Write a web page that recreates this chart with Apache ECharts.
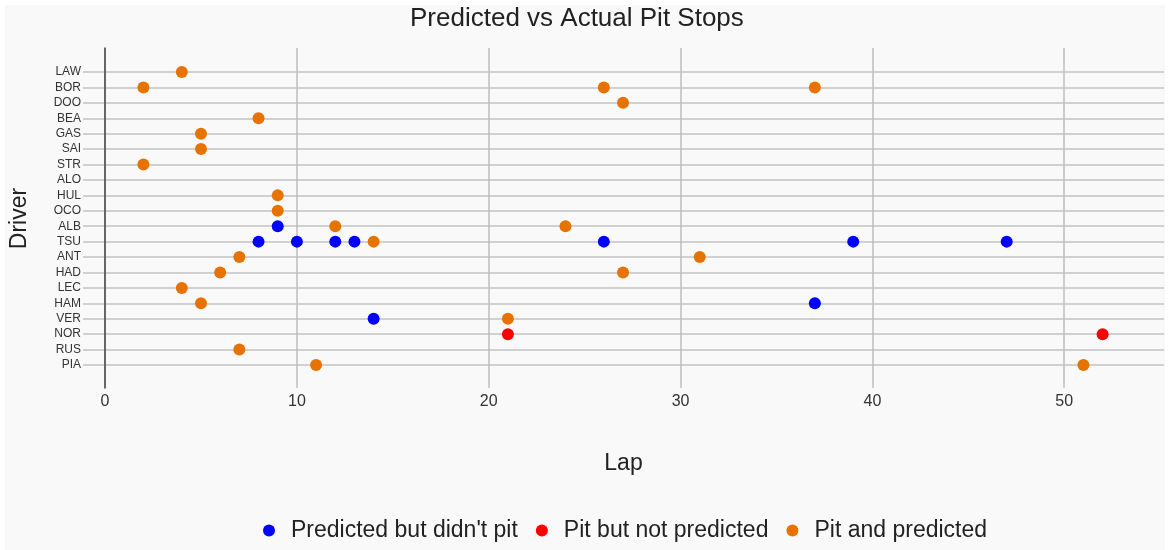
<!DOCTYPE html>
<html>
<head>
<meta charset="utf-8">
<script src="https://cdn.jsdelivr.net/npm/echarts@6/dist/echarts.min.js"></script>
<style>
html,body{margin:0;padding:0;background:#ffffff;}
#chart{width:1170px;height:550px;}
</style>
</head>
<body>
<div id="chart"></div>
<script>
// Drivers, top to bottom
const drivers = ['LAW','BOR','DOO','BEA','GAS','SAI','STR','ALO','HUL','OCO','ALB','TSU','ANT','HAD','LEC','HAM','VER','NOR','RUS','PIA'];

// [driver, lap]
const predictedNotPit = [
  ['ALB', 9],
  ['TSU', 8], ['TSU', 10], ['TSU', 12], ['TSU', 13], ['TSU', 26], ['TSU', 39], ['TSU', 47],
  ['HAM', 37],
  ['VER', 14]
];
const pitNotPredicted = [
  ['NOR', 21], ['NOR', 52]
];
const pitAndPredicted = [
  ['LAW', 4],
  ['BOR', 2], ['BOR', 26], ['BOR', 37],
  ['DOO', 27],
  ['BEA', 8],
  ['GAS', 5],
  ['SAI', 5],
  ['STR', 2],
  ['HUL', 9],
  ['OCO', 9],
  ['ALB', 12], ['ALB', 24],
  ['TSU', 14],
  ['ANT', 7], ['ANT', 31],
  ['HAD', 6], ['HAD', 27],
  ['LEC', 4],
  ['HAM', 5],
  ['VER', 21],
  ['RUS', 7],
  ['PIA', 11], ['PIA', 51]
];

const seriesNames = ["Predicted but didn't pit", 'Pit but not predicted', 'Pit and predicted'];
const seriesColors = ['#0000ff', '#ff0000', '#e67300'];

const xMin = -1.15, xMax = 55.2;
const FONT = '"Liberation Sans", Arial, sans-serif';

const toPoints = arr => arr.map(d => [d[1], d[0]]);

const chart = echarts.init(document.getElementById('chart'));
chart.setOption({
  backgroundColor: '#ffffff',
  animation: false,
  textStyle: { fontFamily: FONT },
  graphic: [{
    type: 'rect', z: -100, silent: true,
    shape: { x: 5, y: 5, width: 1160, height: 545 },
    style: { fill: '#f9f9f9' }
  }],
  title: {
    text: 'Predicted vs Actual Pit Stops',
    left: 405, top: 1,
    textStyle: { fontFamily: FONT, fontSize: 26, fontWeight: 'normal', color: '#222' }
  },
  legend: {
    bottom: 3, left: 258,
    icon: 'circle', itemWidth: 12, itemHeight: 12, itemGap: 18,
    textStyle: { fontFamily: FONT, fontSize: 23, color: '#222', padding: [0, 0, 0, 11] },
    data: seriesNames
  },
  grid: [
    { left: 83, right: 6, top: 48, bottom: 162, containLabel: false },
    { left: 83, right: 6, top: 72, bottom: 185, containLabel: false }
  ],
  xAxis: [
    {
      type: 'value', gridIndex: 0, min: xMin, max: xMax,
      minInterval: 10, maxInterval: 10,
      name: 'Lap', nameLocation: 'middle', nameGap: 64,
      nameTextStyle: { fontFamily: FONT, fontSize: 23, color: '#222' },
      axisLine: { show: false }, axisTick: { show: false },
      axisLabel: { showMinLabel: false, showMaxLabel: false, fontFamily: FONT, fontSize: 16, color: '#333', margin: 6 },
      splitLine: { show: true, showMinLine: false, showMaxLine: false, lineStyle: { color: '#bcbcbc', width: 1.5 } }
    },
    {
      type: 'value', gridIndex: 1, min: xMin, max: xMax, show: false,
      splitLine: { show: false }
    }
  ],
  yAxis: [
    {
      type: 'value', gridIndex: 0, min: 0, max: 1,
      axisLine: { show: true, onZero: true, lineStyle: { color: '#444', width: 1.5 } },
      axisTick: { show: false }, axisLabel: { show: false }, splitLine: { show: false }
    },
    {
      type: 'category', gridIndex: 1, data: drivers, inverse: true, boundaryGap: false,
      name: 'Driver', nameLocation: 'middle', nameGap: 52,
      nameTextStyle: { fontFamily: FONT, fontSize: 23, color: '#222' },
      axisLine: { show: false, onZero: false }, axisTick: { show: false },
      axisLabel: { fontFamily: FONT, fontSize: 12, color: '#333', margin: 2, interval: 0 },
      splitLine: { show: true, interval: 0, lineStyle: { color: '#c2c2c2', width: 1.5 } }
    }
  ],
  series: [predictedNotPit, pitNotPredicted, pitAndPredicted].map((arr, i) => ({
    name: seriesNames[i],
    type: 'scatter',
    xAxisIndex: 1, yAxisIndex: 1,
    symbol: 'circle', symbolSize: 12,
    itemStyle: { color: seriesColors[i], opacity: 1 },
    data: toPoints(arr)
  }))
});
</script>
</body>
</html>
